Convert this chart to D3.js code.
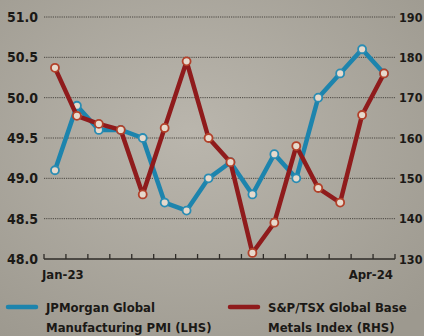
<!DOCTYPE html>
<html>
<head>
<meta charset="utf-8">
<script src="https://cdn.jsdelivr.net/npm/d3@7"></script>
<style>
  body { margin: 0; background: #b2aea5; }
  svg { display: block; }
</style>
</head>
<body>
<div id="chart"></div>
<script>
'use strict'

// months Jan-23 .. Apr-24
const months = ['Jan-23','Feb-23','Mar-23','Apr-23','May-23','Jun-23','Jul-23','Aug-23',
    'Sep-23','Oct-23','Nov-23','Dec-23','Jan-24','Feb-24','Mar-24','Apr-24']

// JPMorgan Global Manufacturing PMI (LHS)
const pmi = [49.1, 49.9, 49.6, 49.6, 49.5, 48.7, 48.6, 49.0, 49.2, 48.8, 49.3, 49.0, 50.0, 50.3, 50.6, 50.3]

// S&P/TSX Global Base Metals Index (RHS)
const metals = [177.4, 165.5, 163.5, 162, 146, 162.5, 179, 160, 154, 131.5, 139, 158, 147.6, 144, 165.7, 176]

const leftTicks = [48.0, 48.5, 49.0, 49.5, 50.0, 50.5, 51.0]
const rightTicks = [130, 140, 150, 160, 170, 180, 190]
const axisLabels = ['Jan-23', 'Apr-24']

////////////////////////////////////
//////////// svg setup /////////////
////////////////////////////////////

const svgWidth = 424, svgHeight = 336
const margin = {left: 44, right: 29, top: 17, bottom: 77}
const width = svgWidth - margin.left - margin.right
const height = svgHeight - margin.top - margin.bottom

const root = d3.select('#chart').append('svg')
    .attr('width', svgWidth)
    .attr('height', svgHeight)

// paper-ish background
const defs = root.append('defs')
const grad = defs.append('radialGradient').attr('id', 'paper')
    .attr('cx', '45%').attr('cy', '40%').attr('r', '75%')
grad.append('stop').attr('offset', '0%').attr('stop-color', '#bab6ad')
grad.append('stop').attr('offset', '100%').attr('stop-color', '#9d998f')
root.append('rect').attr('width', svgWidth).attr('height', svgHeight).attr('fill', 'url(#paper)')

const svg = root.append('g')
    .attr('transform', `translate(${margin.left},${margin.top})`)

////////////////////////////////////
//////////// Scales ////////////////
////////////////////////////////////

const x = d3.scaleBand().domain(months).range([0, width])
const yL = d3.scaleLinear().domain([48, 51]).range([height, 0])
const yR = d3.scaleLinear().domain([130, 190]).range([height, 0])

const teal = '#1d84ad', red = '#8f1b1c'
const font = '"DejaVu Sans Condensed", "DejaVu Sans", sans-serif'

// gridlines (dotted)
svg.selectAll('.grid')
    .data(leftTicks.slice(1))
    .join('line')
    .attr('class', 'grid')
    .attr('x1', 0).attr('x2', width)
    .attr('y1', d => yL(d)).attr('y2', d => yL(d))
    .attr('stroke', '#4a4640')
    .attr('stroke-width', 1)
    .attr('stroke-dasharray', '1.2,1')

// bottom axis with ticks at month boundaries pointing up
svg.append('line')
    .attr('x1', 0).attr('x2', width)
    .attr('y1', height).attr('y2', height)
    .attr('stroke', '#2e2b27').attr('stroke-width', 1.5)

const bounds = months.map(m => x(m)).concat([width])
svg.selectAll('.tick')
    .data(bounds)
    .join('line')
    .attr('x1', d => d).attr('x2', d => d)
    .attr('y1', height).attr('y2', height - 5)
    .attr('stroke', '#2e2b27').attr('stroke-width', 1.3)

// left labels
svg.selectAll('.lab-l')
    .data(leftTicks)
    .join('text')
    .attr('x', -6).attr('y', d => yL(d))
    .attr('dy', '0.36em')
    .attr('text-anchor', 'end')
    .style('font-family', font).style('font-weight', 'bold')
    .style('font-size', '14px').style('fill', '#1b1916')
    .text(d => d.toFixed(1))

// right labels
svg.selectAll('.lab-r')
    .data(rightTicks)
    .join('text')
    .attr('x', width + 4).attr('y', d => yR(d))
    .attr('dy', '0.36em')
    .style('font-family', font).style('font-weight', 'bold')
    .style('font-size', '12.5px').style('fill', '#1b1916')
    .text(d => d)

// x labels
svg.append('text')
    .attr('x', -2).attr('y', height + 20)
    .style('font-family', font).style('font-weight', 'bold')
    .style('font-size', '13px').style('fill', '#1b1916')
    .text(axisLabels[0])
svg.append('text')
    .attr('x', width - 2).attr('y', height + 20)
    .attr('text-anchor', 'end')
    .style('font-family', font).style('font-weight', 'bold')
    .style('font-size', '13px').style('fill', '#1b1916')
    .text(axisLabels[1])

////////////////////////////////////
//////////// lines /////////////////
////////////////////////////////////

const cx = m => x(m) + x.bandwidth() / 2

function drawSeries(vals, yScale, color, ring) {
    const line = d3.line().x((d, i) => cx(months[i])).y(d => yScale(d))
    svg.append('path')
        .datum(vals)
        .attr('d', line)
        .attr('fill', 'none')
        .attr('stroke', color)
        .attr('stroke-width', 4.5)
        .attr('stroke-linejoin', 'round')
    svg.append('g').selectAll('circle')
        .data(vals)
        .join('circle')
        .attr('cx', (d, i) => cx(months[i]))
        .attr('cy', d => yScale(d))
        .attr('r', 4)
        .attr('fill', '#e6d9cc')
        .attr('stroke', ring)
        .attr('stroke-width', 1.8)
}

drawSeries(pmi, yL, teal, '#2a8cb3')
drawSeries(metals, yR, red, '#b2412a')

////////////////////////////////////
//////////// legend ////////////////
////////////////////////////////////

const legend = root.append('g')
const items = [
    {color: teal, x: 8, lines: ['JPMorgan Global', 'Manufacturing PMI (LHS)']},
    {color: red, x: 230, lines: ['S&P/TSX Global Base', 'Metals Index (RHS)']}
]
items.forEach(it => {
    legend.append('line')
        .attr('x1', it.x).attr('x2', it.x + 28)
        .attr('y1', 307).attr('y2', 307)
        .attr('stroke', it.color).attr('stroke-width', 4.5)
        .attr('stroke-linecap', 'round')
    it.lines.forEach((t, i) => {
        legend.append('text')
            .attr('x', it.x + 38).attr('y', 307 + i * 20)
            .attr('dy', '0.36em')
            .style('font-family', font).style('font-weight', 'bold')
            .style('font-size', '13px').style('fill', '#1b1916')
            .text(t)
    })
})
</script>
</body>
</html>
